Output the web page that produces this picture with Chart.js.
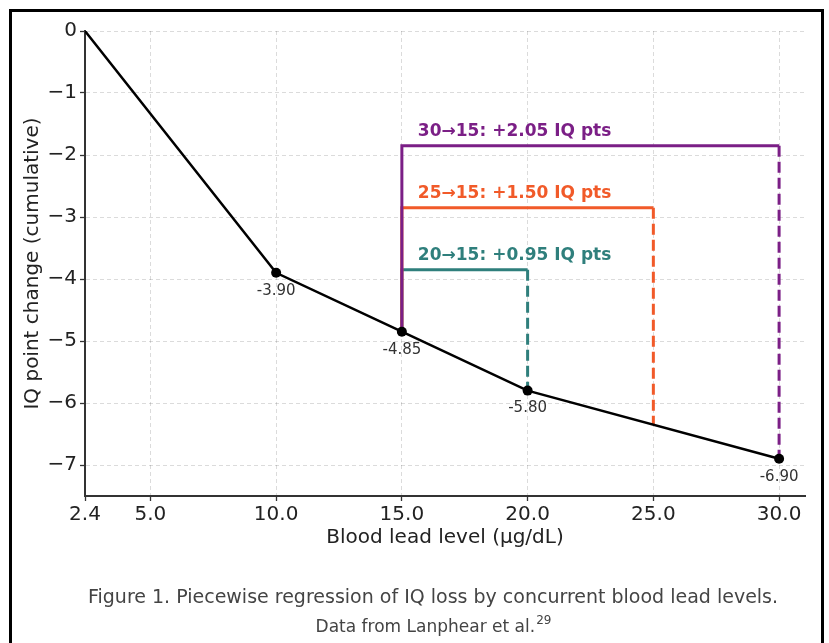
<!DOCTYPE html>
<html>
<head>
<meta charset="utf-8">
<script src="https://cdn.jsdelivr.net/npm/chart.js@4"></script>
<style>
  html, body { margin: 0; padding: 0; background: #fff; }
  canvas { display: block; }
</style>
</head>
<body>
<canvas id="leadChart" width="829" height="643"></canvas>
<script>
// regression knots
const leadLevels = [2.4, 10, 15, 20, 30];
const iqChange = [0, -3.9, -4.85, -5.8, -6.9];
const pointLabels = ['', '-3.90', '-4.85', '-5.80', '-6.90'];

// brackets: from 15 up to a level, across, then dashed back down to the curve
const bracketFrom = [30, 25, 20];
const bracketTop = [-1.85, -2.85, -3.85];
const bracketBottom = [-6.9, -6.35, -5.8];
const bracketText = ['30\u219215: +2.05 IQ pts', '25\u219215: +1.50 IQ pts', '20\u219215: +0.95 IQ pts'];
const bracketColors = ['#7b1f86', '#f15a29', '#2f7f7c'];
const baseLevel = 15;
const baseValue = -4.85;

const xTicks = [2.4, 5, 10, 15, 20, 25, 30];
const yTicks = [0, -1, -2, -3, -4, -5, -6, -7];

const captionLine = 'Figure 1. Piecewise regression of IQ loss by concurrent blood lead levels.';
const sourceLine = 'Data from Lanphear et al.';
const sourceRef = '29';

const FONT = "'DejaVu Sans', sans-serif";

const datasets = [{
    label: 'IQ change',
    data: leadLevels.map((x, i) => ({ x, y: iqChange[i] })),
    borderColor: '#000',
    backgroundColor: '#000',
    borderWidth: 2.5,
    pointRadius: leadLevels.map((_, i) => i === 0 ? 0 : 5),
    pointBorderWidth: 0,
    tension: 0,
    order: 0
}];

bracketFrom.forEach((lvl, i) => {
    datasets.push({
        label: 'bracket ' + lvl,
        data: [
            { x: baseLevel, y: baseValue },
            { x: baseLevel, y: bracketTop[i] },
            { x: lvl, y: bracketTop[i] }
        ],
        borderColor: bracketColors[i],
        borderWidth: 3,
        pointRadius: 0,
        tension: 0,
        order: 1 + i
    });
    datasets.push({
        label: 'drop ' + lvl,
        data: [
            { x: lvl, y: bracketTop[i] },
            { x: lvl, y: bracketBottom[i] }
        ],
        borderColor: bracketColors[i],
        borderWidth: 3,
        borderDash: [11, 5],
        pointRadius: 0,
        tension: 0,
        order: 1 + i
    });
});

const decorPlugin = {
    id: 'decor',
    beforeDraw(chart) {
        const ctx = chart.ctx;
        ctx.save();
        ctx.fillStyle = '#fff';
        ctx.fillRect(0, 0, chart.width, chart.height);
        ctx.restore();
    },
    afterDraw(chart) {
        const ctx = chart.ctx;
        const xs = chart.scales.x, ys = chart.scales.y;
        ctx.save();

        // values under the knots
        ctx.font = '15px ' + FONT;
        ctx.fillStyle = '#333';
        ctx.textAlign = 'center';
        ctx.textBaseline = 'middle';
        leadLevels.forEach((x, i) => {
            if (!pointLabels[i]) return;
            ctx.fillText(pointLabels[i], xs.getPixelForValue(x), ys.getPixelForValue(iqChange[i]) + 18);
        });

        // bracket labels
        ctx.font = 'bold 17px ' + FONT;
        ctx.textAlign = 'left';
        bracketFrom.forEach((lvl, i) => {
            ctx.fillStyle = bracketColors[i];
            ctx.fillText(bracketText[i], xs.getPixelForValue(baseLevel) + 16, ys.getPixelForValue(bracketTop[i]) - 14);
        });

        // caption
        ctx.fillStyle = '#444';
        ctx.textAlign = 'center';
        ctx.font = '19px ' + FONT;
        ctx.fillText(captionLine, 433, 598);
        ctx.font = '17px ' + FONT;
        const w1 = ctx.measureText(sourceLine).width;
        ctx.font = '12px ' + FONT;
        const w2 = ctx.measureText(sourceRef).width;
        const sx = 433 - (w1 + w2) / 2;
        ctx.textAlign = 'left';
        ctx.font = '17px ' + FONT;
        ctx.fillText(sourceLine, sx, 628);
        ctx.font = '12px ' + FONT;
        ctx.fillText(sourceRef, sx + w1 + 1, 621);

        // figure frame
        ctx.strokeStyle = '#000';
        ctx.lineWidth = 3;
        ctx.strokeRect(10.5, 10.5, 812, 660);
        ctx.restore();
    }
};

new Chart(document.getElementById('leadChart'), {
    type: 'line',
    data: { datasets },
    options: {
        responsive: false,
        animation: false,
        layout: { padding: { left: 0, top: 31, right: 24, bottom: 83 } },
        plugins: {
            legend: { display: false },
            tooltip: { enabled: false }
        },
        scales: {
            x: {
                type: 'linear',
                min: 2.4,
                max: 31.03,
                afterBuildTicks: (s) => { s.ticks = xTicks.map(v => ({ value: v })); },
                afterFit: (s) => { s.height = 64; },
                ticks: {
                    callback: (v) => v.toFixed(1),
                    font: { family: FONT, size: 20 },
                    color: '#222',
                    padding: 2,
                    maxRotation: 0
                },
                grid: {
                    color: 'rgba(0,0,0,0.14)',
                    lineWidth: 1,
                    tickColor: '#333',
                    tickLength: 5,
                    tickWidth: 1.3
                },
                border: { color: '#333', width: 2, dash: [4, 3] },
                title: {
                    display: true,
                    text: 'Blood lead level (\u03bcg/dL)',
                    font: { family: FONT, size: 20 },
                    color: '#222',
                    padding: { top: 0, bottom: 10 }
                }
            },
            y: {
                type: 'linear',
                min: -7.5,
                max: 0,
                afterBuildTicks: (s) => { s.ticks = yTicks.map(v => ({ value: v })); },
                afterFit: (s) => { s.width = 85; },
                ticks: {
                    callback: (v) => v < 0 ? '\u2212' + Math.abs(v) : String(v),
                    font: { family: FONT, size: 20 },
                    color: '#222',
                    padding: 3
                },
                grid: {
                    color: 'rgba(0,0,0,0.14)',
                    lineWidth: 1,
                    tickColor: '#333',
                    tickLength: 5,
                    tickWidth: 1.3
                },
                border: { color: '#333', width: 2, dash: [4, 3] },
                title: {
                    display: true,
                    text: 'IQ point change (cumulative)',
                    font: { family: FONT, size: 20 },
                    color: '#222',
                    padding: { top: 21, bottom: 0 }
                }
            }
        }
    },
    plugins: [decorPlugin]
});
</script>
</body>
</html>
